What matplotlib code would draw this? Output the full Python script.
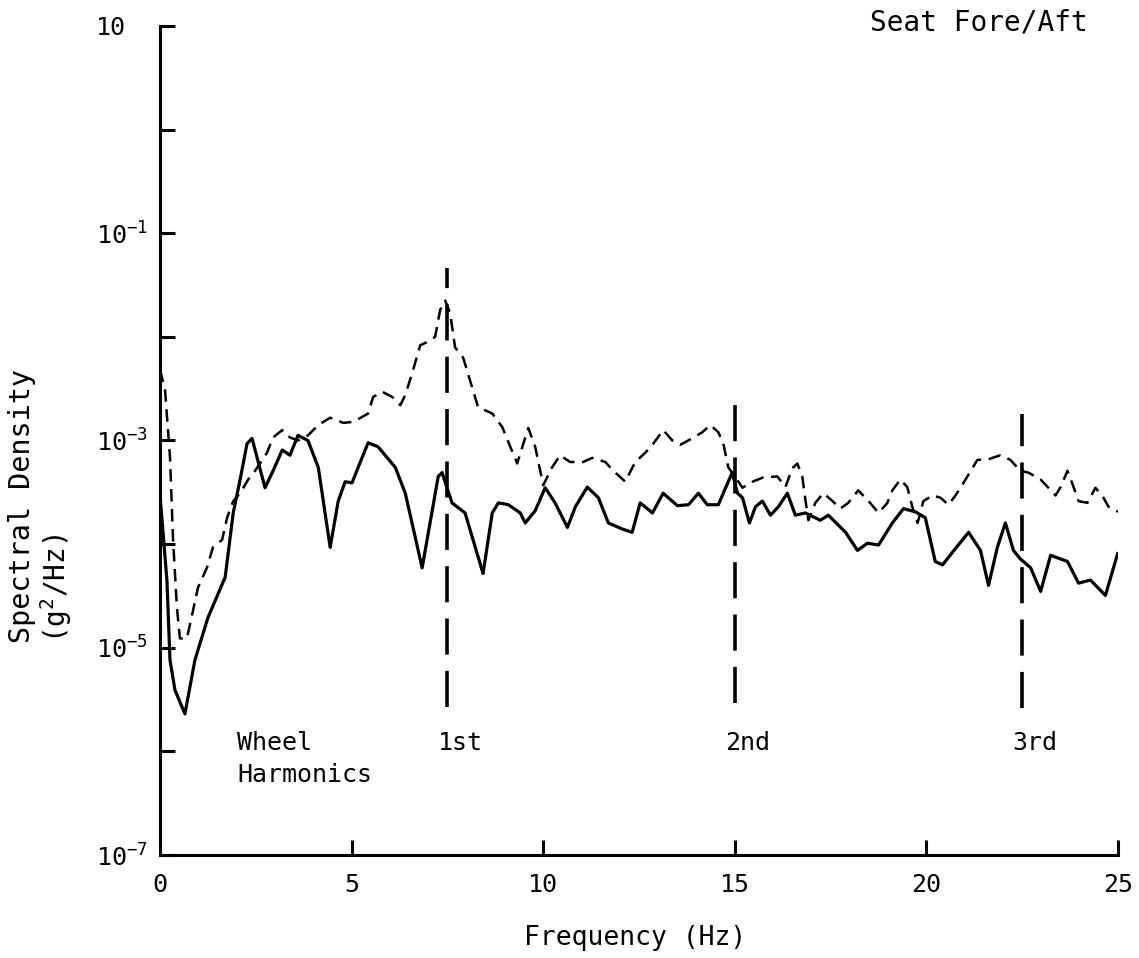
import matplotlib
matplotlib.use("Agg")
import matplotlib.pyplot as plt

plt.rcParams['font.family'] = ['DejaVu Sans Mono', 'DejaVu Sans']
plt.rcParams['mathtext.fontset'] = 'custom'
plt.rcParams['mathtext.rm'] = 'DejaVu Sans Mono'
plt.rcParams['mathtext.it'] = 'DejaVu Sans Mono'
plt.rcParams['mathtext.default'] = 'regular'

# solid curve (Hz, g^2/Hz)
solid_freq = [0.00, 0.18, 0.26, 0.39, 0.65, 0.91, 1.25, 1.70, 1.91, 2.09, 2.27, 2.40,
              2.74, 2.95, 3.19, 3.39, 3.60, 3.86, 4.13, 4.44, 4.65, 4.83, 5.01, 5.17,
              5.43, 5.69, 6.14, 6.40, 6.84, 7.26, 7.36, 7.62, 7.96, 8.43, 8.67, 8.83,
              9.09, 9.40, 9.53, 9.79, 10.05, 10.31, 10.63, 10.84, 11.15, 11.44, 11.70, 12.06,
              12.32, 12.53, 12.85, 13.13, 13.50, 13.79, 14.05, 14.28, 14.57, 14.93, 15.07, 15.20,
              15.38, 15.54, 15.72, 15.93, 16.14, 16.37, 16.58, 16.84, 17.23, 17.44, 17.89, 18.20,
              18.46, 18.75, 19.11, 19.40, 19.71, 19.97, 20.23, 20.42, 20.76, 21.10, 21.41, 21.62,
              21.85, 22.06, 22.27, 22.45, 22.72, 22.98, 23.24, 23.68, 23.97, 24.28, 24.67, 24.99]
solid_psd = [2.95e-4, 4.47e-5, 7.6e-6, 3.9e-6, 2.3e-6, 7.6e-6, 1.95e-5, 4.8e-5, 2.0e-4, 4.2e-4, 9.3e-4, 1.05e-3,
             3.5e-4, 5.1e-4, 8.1e-4, 7.2e-4, 1.12e-3, 1.0e-3, 5.5e-4, 9.3e-5, 2.6e-4, 4.0e-4, 3.9e-4, 5.5e-4,
             9.5e-4, 8.7e-4, 5.5e-4, 3.1e-4, 5.9e-5, 4.5e-4, 4.9e-4, 2.5e-4, 2.0e-4, 5.2e-5, 2.0e-4, 2.5e-4,
             2.4e-4, 2.0e-4, 1.6e-4, 2.1e-4, 3.5e-4, 2.5e-4, 1.45e-4, 2.3e-4, 3.55e-4, 2.8e-4, 1.6e-4, 1.4e-4,
             1.3e-4, 2.5e-4, 2.0e-4, 3.1e-4, 2.35e-4, 2.4e-4, 3.1e-4, 2.4e-4, 2.4e-4, 4.9e-4, 3.1e-4, 2.8e-4,
             1.6e-4, 2.3e-4, 2.6e-4, 1.9e-4, 2.3e-4, 3.1e-4, 1.9e-4, 2.0e-4, 1.7e-4, 1.9e-4, 1.3e-4, 8.7e-5,
             1.02e-4, 9.8e-5, 1.6e-4, 2.2e-4, 2.05e-4, 1.8e-4, 6.8e-5, 6.3e-5, 9.1e-5, 1.3e-4, 8.7e-5, 4.0e-5,
             9.3e-5, 1.6e-4, 8.7e-5, 7.2e-5, 5.9e-5, 3.5e-5, 7.8e-5, 6.8e-5, 4.2e-5, 4.5e-5, 3.2e-5, 8.1e-5]

# dashed curve (Hz, g^2/Hz)
dashed_freq = [0.00, 0.13, 0.26, 0.34, 0.44, 0.52, 0.70, 0.84, 0.99, 1.23, 1.38, 1.62,
               1.75, 1.91, 2.09, 2.30, 2.48, 2.79, 2.95, 3.19, 3.39, 3.60, 3.86, 4.13,
               4.44, 4.78, 5.04, 5.43, 5.56, 5.80, 6.06, 6.27, 6.40, 6.58, 6.79, 6.97,
               7.18, 7.31, 7.44, 7.57, 7.70, 7.91, 8.09, 8.30, 8.67, 8.93, 9.14, 9.32,
               9.48, 9.61, 9.79, 10.00, 10.23, 10.44, 10.70, 11.04, 11.28, 11.62, 11.83, 12.14,
               12.40, 12.66, 12.87, 13.13, 13.37, 13.58, 13.89, 14.15, 14.36, 14.57, 14.70, 14.83,
               14.93, 15.20, 15.46, 15.74, 16.11, 16.32, 16.50, 16.63, 16.76, 16.84, 16.92, 17.10,
               17.31, 17.55, 17.75, 17.96, 18.22, 18.49, 18.75, 18.98, 19.11, 19.32, 19.50, 19.63,
               19.77, 19.92, 20.16, 20.37, 20.57, 20.76, 21.02, 21.33, 21.62, 21.93, 22.19, 22.45,
               22.66, 22.98, 23.37, 23.50, 23.68, 23.84, 23.97, 24.20, 24.41, 24.62, 24.75, 25.00]
dashed_psd = [4.8e-3, 3.1e-3, 6.9e-4, 1.1e-4, 2.45e-5, 1.23e-5, 1.23e-5, 2.1e-5, 3.8e-5, 6.0e-5, 9.3e-5, 1.1e-4,
              1.8e-4, 2.6e-4, 3.1e-4, 4.2e-4, 5.1e-4, 7.6e-4, 1.07e-3, 1.26e-3, 1.07e-3, 1.0e-3, 1.12e-3, 1.41e-3,
              1.66e-3, 1.48e-3, 1.51e-3, 1.82e-3, 2.63e-3, 2.95e-3, 2.63e-3, 2.19e-3, 2.75e-3, 4.47e-3, 8.3e-3, 8.9e-3,
              1.0e-2, 1.82e-2, 2.24e-2, 1.7e-2, 7.9e-3, 6.3e-3, 3.8e-3, 2.1e-3, 1.82e-3, 1.35e-3, 8.7e-4, 6.0e-4,
              9.3e-4, 1.32e-3, 8.7e-4, 3.7e-4, 5.5e-4, 7.2e-4, 6.2e-4, 6.2e-4, 6.8e-4, 6.2e-4, 5.1e-4, 4.0e-4,
              6.2e-4, 7.6e-4, 9.3e-4, 1.26e-3, 1.0e-3, 9.1e-4, 1.05e-3, 1.2e-3, 1.41e-3, 1.2e-3, 9.3e-4, 5.5e-4,
              4.9e-4, 3.5e-4, 4.0e-4, 4.4e-4, 4.5e-4, 3.55e-4, 5.4e-4, 6.0e-4, 4.5e-4, 2.7e-4, 1.7e-4, 2.5e-4,
              3.1e-4, 2.6e-4, 2.2e-4, 2.5e-4, 3.3e-4, 2.6e-4, 2.0e-4, 2.5e-4, 3.3e-4, 4.2e-4, 3.55e-4, 2.3e-4,
              1.6e-4, 2.6e-4, 2.95e-4, 2.8e-4, 2.4e-4, 2.95e-4, 4.2e-4, 6.5e-4, 6.6e-4, 7.2e-4, 6.5e-4, 5.1e-4,
              4.9e-4, 4.2e-4, 2.95e-4, 3.55e-4, 5.1e-4, 3.55e-4, 2.6e-4, 2.5e-4, 3.5e-4, 2.8e-4, 2.3e-4, 2.05e-4]

# wheel harmonics markers
harmonic_freq = [7.5, 15.0, 22.5]
harmonic_top = [4.6e-2, 2.3e-3, 1.8e-3]
harmonic_bottom = [2.7e-6, 2.9e-6, 2.6e-6]
harmonic_labels = ['1st', '2nd', '3rd']

x_ticks = [0, 5, 10, 15, 20, 25]
y_ticks = [10.0, 1.0, 1e-1, 1e-2, 1e-3, 1e-4, 1e-5, 1e-6, 1e-7]
y_tick_labels = ['10', '', '10$^{-1}$', '', '10$^{-3}$', '', '10$^{-5}$', '', '10$^{-7}$']

fig = plt.figure(figsize=(11.39, 9.58), dpi=100)
ax = fig.add_axes([0.1405, 0.1075, 0.8411, 0.8654])

ax.plot(solid_freq, solid_psd, color='black', lw=2.3, solid_joinstyle='round')
ax.plot(dashed_freq, dashed_psd, color='black', lw=1.8, linestyle=(0, (5, 3)))
for f, top, bot in zip(harmonic_freq, harmonic_top, harmonic_bottom):
    ax.plot([f, f], [bot, top], color='black', lw=2.6, linestyle=(0, (10, 4.5)))

ax.set_yscale('log')
ax.set_xlim(0, 25)
ax.set_ylim(1e-7, 10)
ax.set_xticks(x_ticks)
ax.set_xticklabels([str(v) for v in x_ticks])
ax.set_yticks(y_ticks)
ax.set_yticklabels(y_tick_labels)
ax.yaxis.set_minor_locator(matplotlib.ticker.NullLocator())
ax.tick_params(axis='both', direction='in', length=11, width=2.2, labelsize=18)
ax.tick_params(axis='y', pad=46)
ax.tick_params(axis='x', pad=13)
for lab in ax.get_yticklabels():
    lab.set_horizontalalignment('left')

for side in ['top', 'right']:
    ax.spines[side].set_visible(False)
for side in ['left', 'bottom']:
    ax.spines[side].set_linewidth(2.2)

for f, lab in zip(harmonic_freq, harmonic_labels):
    ax.text(f - 0.26, 1.2e-6, lab, fontsize=18, ha='left', va='center')
ax.text(2.01, 1.2e-6, 'Wheel', fontsize=18, ha='left', va='center')
ax.text(2.01, 5.9e-7, 'Harmonics', fontsize=18, ha='left', va='center')

fig.text(0.859, 0.976, 'Seat Fore/Aft', fontsize=20, ha='center', va='center')
fig.text(0.5575, 0.021, 'Frequency (Hz)', fontsize=19, ha='center', va='center')
fig.text(0.019, 0.329, 'Spectral Density', fontsize=20.5, rotation=90, ha='center', va='bottom')
fig.text(0.049, 0.329, '(g$^2$/Hz)', fontsize=20, rotation=90, ha='center', va='bottom')

fig.savefig('out.png', dpi=100)
